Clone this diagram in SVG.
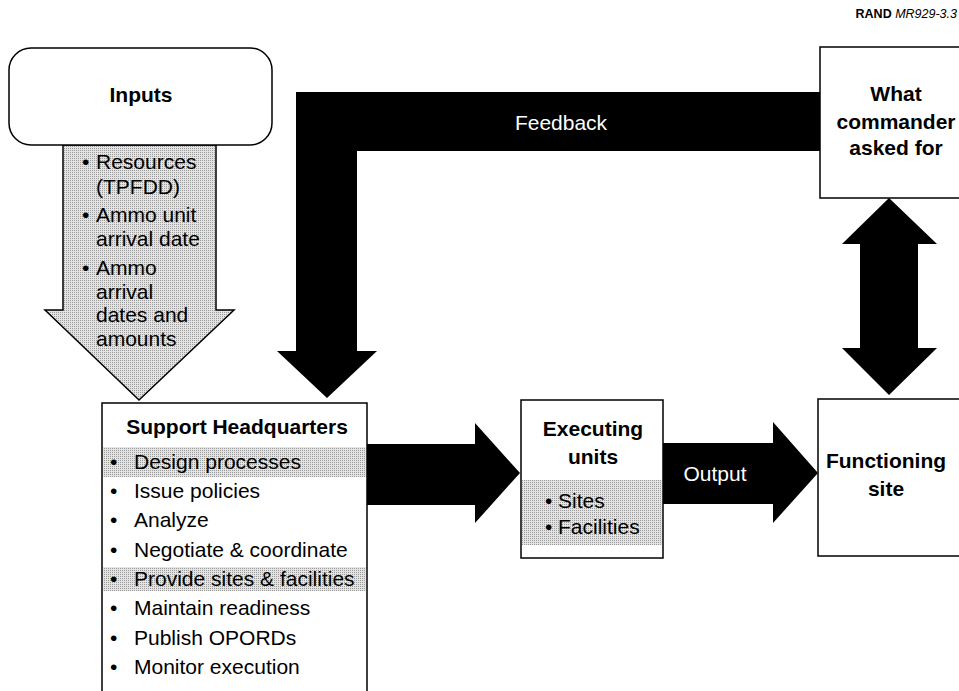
<svg xmlns="http://www.w3.org/2000/svg" width="959" height="691" viewBox="0 0 959 691">
  <defs>
    <!-- halftone stipple used for shaded areas -->
    <pattern id="stipple" width="2" height="2" patternUnits="userSpaceOnUse">
      <rect width="2" height="2" fill="#e4e4e4"/>
      <rect width="1" height="1" fill="#9a9a9a"/>
    </pattern>
  </defs>
  <style>
    .box { fill: #fff; stroke: #000; stroke-width: 1.5; }
    .shade { fill: url(#stipple); }
    .flow { fill: #000; stroke: none; }
    text { font-family: "Liberation Sans", Arial, sans-serif; fill: #000; }
    .title { font-size: 21px; font-weight: bold; text-anchor: middle; }
    .item { font-size: 21px; }
    .label { font-size: 21px; fill: #fff; text-anchor: middle; }
  </style>
  <rect width="959" height="691" fill="#fff"/>

  <!-- RAND figure tag -->
  <text x="957" y="18" font-size="12.5" text-anchor="end"><tspan font-weight="bold">RAND </tspan><tspan font-style="italic">MR929-3.3</tspan></text>

  <!-- Inputs: shaded arrow pointing down into Support Headquarters -->
  <g id="inputs">
    <polygon class="shade" stroke="#000" stroke-width="1.5" points="63,145 216,145 216,310 234,310 139,400 45,310 63,310"/>
    <rect class="box" x="9" y="48" width="263" height="97" rx="22" ry="22"/>
    <text class="title" x="141" y="102">Inputs</text>
    <g class="item">
      <text x="82" y="169">•</text><text x="96" y="169">Resources</text>
      <text x="96" y="194">(TPFDD)</text>
      <text x="82" y="222">•</text><text x="96" y="222">Ammo unit</text>
      <text x="96" y="246">arrival date</text>
      <text x="82" y="275">•</text><text x="96" y="275">Ammo</text>
      <text x="96" y="299">arrival</text>
      <text x="96" y="322">dates and</text>
      <text x="96" y="346">amounts</text>
    </g>
  </g>

  <!-- Support Headquarters -->
  <g id="support-hq">
    <rect class="box" x="102" y="403" width="265" height="300"/>
    <rect class="shade" x="103" y="447" width="263" height="30"/>
    <rect class="shade" x="103" y="567" width="263" height="24"/>
    <text class="title" x="237" y="434">Support Headquarters</text>
    <g class="item">
      <text x="110" y="469">•</text><text x="134" y="469">Design processes</text>
      <text x="110" y="498">•</text><text x="134" y="498">Issue policies</text>
      <text x="110" y="527">•</text><text x="134" y="527">Analyze</text>
      <text x="110" y="557">•</text><text x="134" y="557">Negotiate &amp; coordinate</text>
      <text x="110" y="586">•</text><text x="134" y="586">Provide sites &amp; facilities</text>
      <text x="110" y="615">•</text><text x="134" y="615">Maintain readiness</text>
      <text x="110" y="645">•</text><text x="134" y="645">Publish OPORDs</text>
      <text x="110" y="674">•</text><text x="134" y="674">Monitor execution</text>
    </g>
  </g>

  <!-- Executing units -->
  <g id="executing-units">
    <rect class="box" x="521" y="400" width="142" height="158"/>
    <rect class="shade" x="522" y="480" width="140" height="65"/>
    <text class="title" x="593" y="436">Executing</text>
    <text class="title" x="593" y="464">units</text>
    <g class="item">
      <text x="545" y="508">•</text><text x="558" y="508">Sites</text>
      <text x="545" y="534">•</text><text x="558" y="534">Facilities</text>
    </g>
  </g>

  <!-- Functioning site -->
  <g id="functioning-site">
    <rect class="box" x="818" y="399" width="150" height="157"/>
    <text class="title" x="886" y="468">Functioning</text>
    <text class="title" x="886" y="496">site</text>
  </g>

  <!-- What commander asked for -->
  <g id="commander-request">
    <rect class="box" x="820" y="47" width="150" height="151"/>
    <text class="title" x="896" y="101">What</text>
    <text class="title" x="896" y="129">commander</text>
    <text class="title" x="896" y="155">asked for</text>
  </g>

  <!-- Block arrows -->
  <g id="connectors">
    <polygon class="flow" points="820,92 296,92 296,351 277,351 327,398 377,351 357,351 357,151 820,151"/>
    <text class="label" x="561" y="130">Feedback</text>
    <polygon class="flow" points="367,444 475,444 475,423 520,473 475,523 475,505 367,505"/>
    <polygon class="flow" points="663,443 773,443 773,422 818,473 773,523 773,504 663,504"/>
    <text class="label" x="715" y="481">Output</text>
    <polygon class="flow" points="889,198 937,244 918,244 918,348 937,348 889,395 842,348 860,348 860,244 842,244"/>
  </g>
</svg>
